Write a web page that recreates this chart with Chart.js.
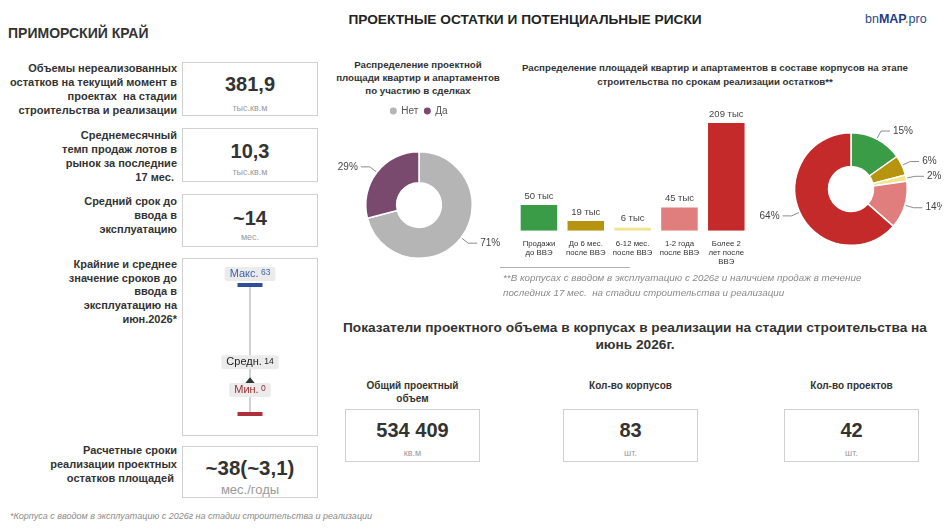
<!DOCTYPE html>
<html lang="ru">
<head>
<meta charset="utf-8">
<title>Проектные остатки и потенциальные риски</title>
<script src="https://cdn.jsdelivr.net/npm/chart.js@4.4.1/dist/chart.umd.min.js"></script>
<style>
body { margin: 0; background: #fff; font-family: "Liberation Sans", Arial, sans-serif; color: #333; }
#page { position: relative; width: 946px; height: 530px; overflow: hidden; }
.t { position: absolute; white-space: nowrap; }
.lbl { position: absolute; left: 0; width: 177px; text-align: right; font-weight: bold; font-size: 11px; line-height: 14px; color: #333; white-space: nowrap; }
.box { position: absolute; border: 1.5px solid #d0d0d0; box-sizing: border-box; text-align: center; }
.val { position: absolute; left: 0; right: 0; font-weight: bold; font-size: 20px; line-height: 24px; color: #333; }
.unit { position: absolute; left: 0; right: 0; font-size: 9px; line-height: 12px; color: #9a9a9a; }
.ctitle { position: absolute; text-align: center; font-weight: bold; font-size: 9.7px; color: #333; white-space: nowrap; }
.klbl { position: absolute; text-align: center; font-weight: bold; font-size: 10px; line-height: 13px; color: #333; white-space: nowrap; }
.note { position: absolute; font-style: italic; color: #8a8a8a; white-space: nowrap; }
canvas { position: absolute; }
</style>
</head>
<body>
<div id="page">
  <div class="t" style="left:8px; top:25px; font-size:14px; line-height:16px; font-weight:bold; color:#333;">ПРИМОРСКИЙ КРАЙ</div>
  <div class="t" style="left:330px; width:390px; top:12px; text-align:center; font-size:13.7px; line-height:16px; font-weight:bold; color:#222;">ПРОЕКТНЫЕ ОСТАТКИ И ПОТЕНЦИАЛЬНЫЕ РИСКИ</div>
  <div class="t" style="left:865px; top:11px; font-size:12.5px; line-height:16px; color:#2b4c8c;">bn<b style="color:#1d3d86;">MAP</b><span style="color:#e3a21a; font-weight:bold;">.</span>pro</div>

  <!-- left column -->
  <div class="lbl" style="top:61px;">Объемы нереализованных<br>остатков на текущий момент в<br>проектах&nbsp; на стадии<br>строительства и реализации</div>
  <div class="box" style="left:182px; top:62px; width:136px; height:54px;">
    <div class="val" style="top:9px;">381,9</div>
    <div class="unit" style="top:39px;">тыс.кв.м</div>
  </div>

  <div class="lbl" style="top:128px;">Среднемесячный<br>темп продаж лотов в<br>рынок за последние<br>17 мес.&nbsp;</div>
  <div class="box" style="left:182px; top:128px; width:136px; height:54px;">
    <div class="val" style="top:10px;">10,3</div>
    <div class="unit" style="top:37px;">тыс.кв.м</div>
  </div>

  <div class="lbl" style="top:194px;">Средний срок до<br>ввода в<br>эксплуатацию</div>
  <div class="box" style="left:182px; top:194px; width:136px; height:53px;">
    <div class="val" style="top:11px;">~14</div>
    <div class="unit" style="top:36px;">мес.</div>
  </div>

  <div class="lbl" style="top:258px; line-height:13.7px;">Крайние и среднее<br>значение сроков до<br>ввода в<br>эксплуатацию на<br>июн.2026*</div>
  <div class="box" style="left:182px; top:258px; width:136px; height:178px;"></div>
  <canvas id="rangeChart" style="left:183px; top:259px; width:134px; height:176px;"></canvas>

  <div class="lbl" style="top:443px;">Расчетные сроки<br>реализации проектных<br>остатков площадей&nbsp;</div>
  <div class="box" style="left:182px; top:446px; width:136px; height:52px;">
    <div class="val" style="top:9px; font-size:20.5px;">~38(~3,1)</div>
    <div class="unit" style="top:36px; font-size:13px; line-height:14px;">мес./годы</div>
  </div>

  <div class="note" style="left:10px; top:511px; font-size:9px; line-height:11px;">*Корпуса с вводом в эксплуатацию с 2026г на стадии строительства и реализации</div>

  <!-- charts -->
  <div class="ctitle" style="left:328px; width:180px; top:58px; line-height:13px;">Распределение проектной<br>площади квартир и апартаментов<br>по участию в сделках</div>
  <canvas id="dealChart" style="left:335px; top:100px; width:168px; height:189px;"></canvas>

  <div class="ctitle" style="left:505px; width:420px; top:61px; line-height:14px;">Распределение площадей квартир и апартаментов в составе корпусов на этапе<br>строительства по срокам реализации остатков**</div>
  <canvas id="termBar" style="left:514px; top:100px; width:239px; height:180px;"></canvas>
  <canvas id="termPie" style="left:760px; top:120px; width:182px; height:138px;"></canvas>

  <div style="position:absolute; left:500px; top:267px; width:130px; height:1px; background:#b0b0b0;"></div>
  <div class="note" style="left:503px; top:271px; font-size:9.8px; line-height:14.5px;">**В корпусах с вводом в эксплуатацию с 2026г и наличием продаж в течение<br>последних 17 мес.&nbsp; на стадии строительства и реализации</div>

  <!-- bottom block -->
  <div class="t" style="left:330px; width:610px; top:319px; text-align:center; font-size:13.7px; line-height:17px; font-weight:bold; color:#333;">Показатели проектного объема в корпусах в реализации на стадии строительства на<br>июнь 2026г.</div>

  <div class="klbl" style="left:345px; width:135px; top:379px;">Общий проектный<br>объем</div>
  <div class="box" style="left:345px; top:409px; width:135px; height:53px;">
    <div class="val" style="top:8px;">534 409</div>
    <div class="unit" style="top:37px;">кв.м</div>
  </div>

  <div class="klbl" style="left:563px; width:135px; top:379px;">Кол-во корпусов</div>
  <div class="box" style="left:563px; top:409px; width:135px; height:53px;">
    <div class="val" style="top:8px;">83</div>
    <div class="unit" style="top:37px;">шт.</div>
  </div>

  <div class="klbl" style="left:784px; width:135px; top:379px;">Кол-во проектов</div>
  <div class="box" style="left:784px; top:409px; width:135px; height:53px;">
    <div class="val" style="top:8px;">42</div>
    <div class="unit" style="top:37px;">шт.</div>
  </div>
</div>

<script>
// Участие в сделках (%)
const dealLabels = ["Нет", "Да"];
const dealValues = [71, 29];
const dealColors = ["#b5b5b5", "#794a6d"];

// Сроки реализации остатков (тыс. кв.м)
const termLabels = [
    ["Продажи", "до ВВЭ"],
    ["До 6 мес.", "после ВВЭ"],
    ["6-12 мес.", "после ВВЭ"],
    ["1-2 года", "после ВВЭ"],
    ["Более 2", "лет после", "ВВЭ"]
];
const termValues = [50, 19, 6, 45, 209];
const termColors = ["#3a9c46", "#b6940f", "#f2e38e", "#e07e7e", "#c42a2a"];

// Сроки до ввода (мес.)
const rangeMin = 0;
const rangeAvg = 14;
const rangeMax = 63;

const FONT = "'Liberation Sans', Arial, sans-serif";
Chart.defaults.font.family = FONT;
Chart.defaults.animation = false;
Chart.defaults.plugins.tooltip.enabled = false;

// Percent labels with leader lines outside doughnuts
const outsideLabels = {
    id: "outsideLabels",
    afterDatasetsDraw(chart) {
        const ctx = chart.ctx;
        const values = chart.data.datasets[0].data;
        const total = values.reduce((a, b) => a + b, 0);
        chart.getDatasetMeta(0).data.forEach((arc, i) => {
            const p = arc.getProps(["x", "y", "startAngle", "endAngle", "outerRadius"], true);
            const mid = (p.startAngle + p.endAngle) / 2;
            const cos = Math.cos(mid), sin = Math.sin(mid);
            const x1 = p.x + cos * (p.outerRadius + 1);
            const y1 = p.y + sin * (p.outerRadius + 1);
            const x2 = p.x + cos * (p.outerRadius + 9);
            const y2 = p.y + sin * (p.outerRadius + 9);
            const right = cos >= 0;
            const x3 = x2 + (right ? 9 : -9);
            ctx.save();
            ctx.strokeStyle = "#8c8c8c";
            ctx.lineWidth = 1;
            ctx.beginPath();
            ctx.moveTo(x1, y1);
            ctx.lineTo(x2, y2);
            ctx.lineTo(x3, y2);
            ctx.stroke();
            ctx.fillStyle = "#444";
            ctx.font = "10px " + FONT;
            ctx.textAlign = right ? "left" : "right";
            ctx.textBaseline = "middle";
            ctx.fillText(Math.round(values[i] / total * 100) + "%", x3 + (right ? 3 : -3), y2);
            ctx.restore();
        });
    }
};

new Chart(document.getElementById("dealChart"), {
    type: "doughnut",
    data: {
        labels: dealLabels,
        datasets: [{
            data: dealValues,
            backgroundColor: dealColors,
            borderColor: "#fff",
            borderWidth: 1.5
        }]
    },
    options: {
        responsive: false,
        cutout: "42%",
        layout: { padding: { left: 30, right: 30, top: 0, bottom: 5 } },
        plugins: {
            legend: {
                position: "top",
                labels: {
                    usePointStyle: true,
                    pointStyle: "circle",
                    boxWidth: 6,
                    boxHeight: 6,
                    padding: 6,
                    color: "#555",
                    font: { size: 10 }
                }
            }
        }
    },
    plugins: [outsideLabels]
});

new Chart(document.getElementById("termPie"), {
    type: "doughnut",
    data: {
        labels: termLabels.map(l => l.join(" ")),
        datasets: [{
            data: termValues,
            backgroundColor: termColors,
            borderColor: "#fff",
            borderWidth: 1.5
        }]
    },
    options: {
        responsive: false,
        cutout: "40%",
        layout: { padding: { left: 34, right: 34, top: 12, bottom: 12 } },
        plugins: { legend: { display: false } }
    },
    plugins: [outsideLabels]
});

// "50 тыс" above bars
const barValueLabels = {
    id: "barValueLabels",
    afterDatasetsDraw(chart) {
        const ctx = chart.ctx;
        const values = chart.data.datasets[0].data;
        ctx.save();
        ctx.fillStyle = "#444";
        ctx.font = "9.5px " + FONT;
        ctx.textAlign = "center";
        ctx.textBaseline = "middle";
        chart.getDatasetMeta(0).data.forEach((bar, i) => {
            ctx.fillText(values[i] + " тыс", bar.x, bar.y - 9);
        });
        ctx.restore();
    }
};

new Chart(document.getElementById("termBar"), {
    type: "bar",
    data: {
        labels: termLabels,
        datasets: [{
            data: termValues,
            backgroundColor: termColors,
            barPercentage: 0.78,
            categoryPercentage: 1
        }]
    },
    options: {
        responsive: false,
        layout: { padding: { top: 7, bottom: 5, left: 0, right: 0 } },
        plugins: { legend: { display: false } },
        scales: {
            y: { display: false, min: 0, max: 240 },
            x: {
                grid: { display: false, drawTicks: false },
                border: { display: false },
                ticks: {
                    padding: 9,
                    maxRotation: 0,
                    autoSkip: false,
                    color: "#333",
                    font: { size: 7.8, lineHeight: 1.12 }
                }
            }
        }
    },
    plugins: [barValueLabels]
});

// Min / avg / max markers with captions
const rangeMarks = {
    id: "rangeMarks",
    afterDatasetsDraw(chart) {
        const ctx = chart.ctx;
        const y = chart.scales.y, x = chart.scales.x;
        const cx = x.getPixelForValue(0);
        const yMax = y.getPixelForValue(rangeMax);
        const yMin = y.getPixelForValue(rangeMin);
        const yAvg = y.getPixelForValue(rangeAvg);
        ctx.save();
        // bars
        ctx.fillStyle = "#2f4f9e";
        ctx.fillRect(cx - 12.5, yMax - 2, 25, 4);
        ctx.fillStyle = "#b0303a";
        ctx.fillRect(cx - 12.5, yMin - 2, 25, 4);
        // average triangle
        ctx.fillStyle = "#2e3935";
        ctx.beginPath();
        ctx.moveTo(cx, yAvg - 8);
        ctx.lineTo(cx + 6.5, yAvg);
        ctx.lineTo(cx - 6.5, yAvg);
        ctx.closePath();
        ctx.fill();

        const caption = (name, value, color, cy) => {
            ctx.font = "11px " + FONT;
            const w1 = ctx.measureText(name).width;
            ctx.font = "8.5px " + FONT;
            const w2 = ctx.measureText(" " + value).width;
            const w = w1 + w2 + 10;
            ctx.fillStyle = "#ebebeb";
            ctx.beginPath();
            ctx.roundRect(cx - w / 2, cy - 7, w, 14, 2);
            ctx.fill();
            ctx.fillStyle = color;
            ctx.textBaseline = "middle";
            ctx.textAlign = "left";
            ctx.font = "11px " + FONT;
            ctx.fillText(name, cx - w / 2 + 5, cy);
            ctx.font = "8.5px " + FONT;
            ctx.fillText(" " + value, cx - w / 2 + 5 + w1, cy - 1);
        };
        caption("Макс.", rangeMax, "#3f61ad", yMax - 11);
        caption("Средн.", rangeAvg, "#222", yAvg - 23);
        caption("Мин.", rangeMin, "#9c2c30", yMin - 24);
        ctx.restore();
    }
};

new Chart(document.getElementById("rangeChart"), {
    type: "scatter",
    data: {
        datasets: [{
            data: [{ x: 0, y: rangeMin }, { x: 0, y: rangeMax }],
            showLine: true,
            borderColor: "#a3a3a3",
            borderWidth: 1,
            pointRadius: 0
        }]
    },
    options: {
        responsive: false,
        layout: { padding: { top: 26, bottom: 21, left: 0, right: 0 } },
        plugins: { legend: { display: false } },
        scales: {
            x: { display: false, min: -1, max: 1 },
            y: { display: false, min: rangeMin, max: rangeMax }
        }
    },
    plugins: [rangeMarks]
});
</script>
</body>
</html>
